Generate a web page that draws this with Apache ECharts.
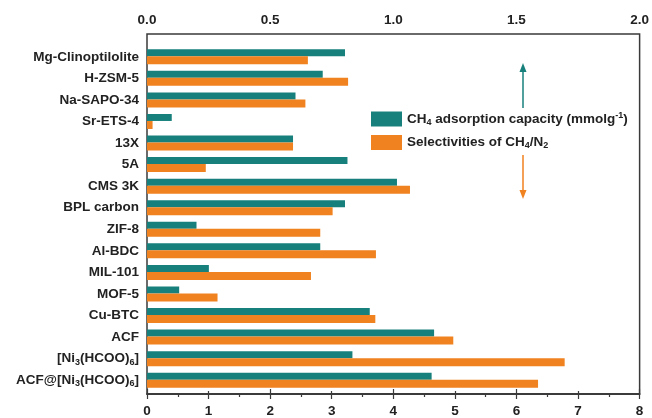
<!DOCTYPE html>
<html><head><meta charset="utf-8">
<script src="https://cdn.jsdelivr.net/npm/echarts@6/dist/echarts.min.js"></script>
<style>html,body{margin:0;padding:0;background:#fff}#c{width:652px;height:418px}</style>
</head><body><div id="c"></div>
<script>
const categories = ['Mg-Clinoptilolite','H-ZSM-5','Na-SAPO-34','Sr-ETS-4','13X','5A','CMS 3K','BPL carbon','ZIF-8','Al-BDC','MIL-101','MOF-5','Cu-BTC','ACF','[Ni3(HCOO)6]','ACF@[Ni3(HCOO)6]'];
const adsorption = [0.80,0.71,0.60,0.10,0.59,0.81,1.01,0.80,0.20,0.70,0.25,0.13,0.90,1.16,0.83,1.15];
const selectivity = [2.60,3.25,2.56,0.09,2.36,0.95,4.25,3.00,2.80,3.70,2.65,1.14,3.69,4.95,6.75,6.32];
const topTicks = {min:0, max:2, interval:0.5};
const bottomTicks = {min:0, max:8, interval:1};
const seriesNames = ['CH4 adsorption capacity (mmolg-1)','Selectivities of CH4/N2'];

const TEAL = '#17807c', ORANGE = '#f0821f', INK = '#222';
const FONT = '"Liberation Sans", Arial, sans-serif';
const FS = 13.5;
const chart = echarts.init(document.getElementById('c'), null, {renderer:'canvas'});
const L = 147, R = 10;
const richSub = {
  s:{fontSize:9, fontWeight:'bold', fontFamily:FONT, color:INK, verticalAlign:'bottom', padding:[7,0,0,0]},
  u:{fontSize:9, fontWeight:'bold', fontFamily:FONT, color:INK, padding:[0,0,7,0]}
};
chart.setOption({
  animation:false,
  grid:[
    {left:L, right:R, top:34, bottom:16, show:true, borderColor:'#3a3a3a', borderWidth:1.5, containLabel:false},
    {left:L, right:R, top:46, height:345, containLabel:false}
  ],
  xAxis:[
    {gridIndex:0, type:'value', position:'top', min:topTicks.min, max:topTicks.max, interval:topTicks.interval,
     axisLine:{show:true, lineStyle:{color:'#3a3a3a', width:1.5}},
     axisTick:{show:true, length:5, lineStyle:{color:'#3a3a3a', width:1.2}},
     minorTick:{show:true, splitNumber:2, length:3, lineStyle:{color:'#3a3a3a', width:1.2}},
     splitLine:{show:false},
     axisLabel:{margin:7, color:INK, fontSize:FS, fontWeight:'bold', fontFamily:FONT, formatter:v=>v.toFixed(1)}},
    {gridIndex:0, type:'value', position:'bottom', min:bottomTicks.min, max:bottomTicks.max, interval:bottomTicks.interval,
     axisLine:{show:true, lineStyle:{color:'#3a3a3a', width:1.5}},
     axisTick:{show:true, length:5, lineStyle:{color:'#3a3a3a', width:1.2}},
     minorTick:{show:true, splitNumber:2, length:3, lineStyle:{color:'#3a3a3a', width:1.2}},
     splitLine:{show:false},
     axisLabel:{margin:10, color:INK, fontSize:FS, fontWeight:'bold', fontFamily:FONT}},
    {gridIndex:1, type:'value', min:topTicks.min, max:topTicks.max, show:false},
    {gridIndex:1, type:'value', min:bottomTicks.min, max:bottomTicks.max, show:false}
  ],
  yAxis:[
    {gridIndex:0, type:'value', show:false, min:0, max:1},
    {gridIndex:1, type:'category', inverse:true, data:categories,
     axisLine:{show:false}, axisTick:{show:false},
     axisLabel:{margin:8, color:INK, fontSize:FS, fontWeight:'bold', fontFamily:FONT, rich:richSub,
       formatter:v=>v.replace('Ni3','Ni{s|3}').replace(')6', '){s|6}')}}
  ],
  legend:{orient:'vertical', left:371, top:111, padding:0, itemWidth:31, itemHeight:15, itemGap:8,
    icon:'rect',
    textStyle:{color:INK, fontSize:FS, fontWeight:'bold', fontFamily:FONT, rich:richSub},
    formatter:n=> n===seriesNames[0] ? 'CH{s|4} adsorption capacity (mmolg{u|-1})' : 'Selectivities of CH{s|4}/N{s|2}',
    data:seriesNames},
  series:[
    {name:seriesNames[0], type:'bar', xAxisIndex:2, yAxisIndex:1, data:adsorption, barWidth:7, barGap:'0%',
     itemStyle:{color:TEAL}},
    {name:seriesNames[1], type:'bar', xAxisIndex:3, yAxisIndex:1, data:selectivity, barWidth:8, barGap:'0%',
     itemStyle:{color:ORANGE}}
  ],
  graphic:[
    {type:'line', shape:{x1:523, y1:108, x2:523, y2:70}, style:{stroke:TEAL, lineWidth:1.5}},
    {type:'polygon', shape:{points:[[523,63],[519.5,72],[526.5,72]]}, style:{fill:TEAL}},
    {type:'line', shape:{x1:523, y1:155, x2:523, y2:192}, style:{stroke:ORANGE, lineWidth:1.5}},
    {type:'polygon', shape:{points:[[523,199],[519.5,190],[526.5,190]]}, style:{fill:ORANGE}}
  ]
});
</script></body></html>
